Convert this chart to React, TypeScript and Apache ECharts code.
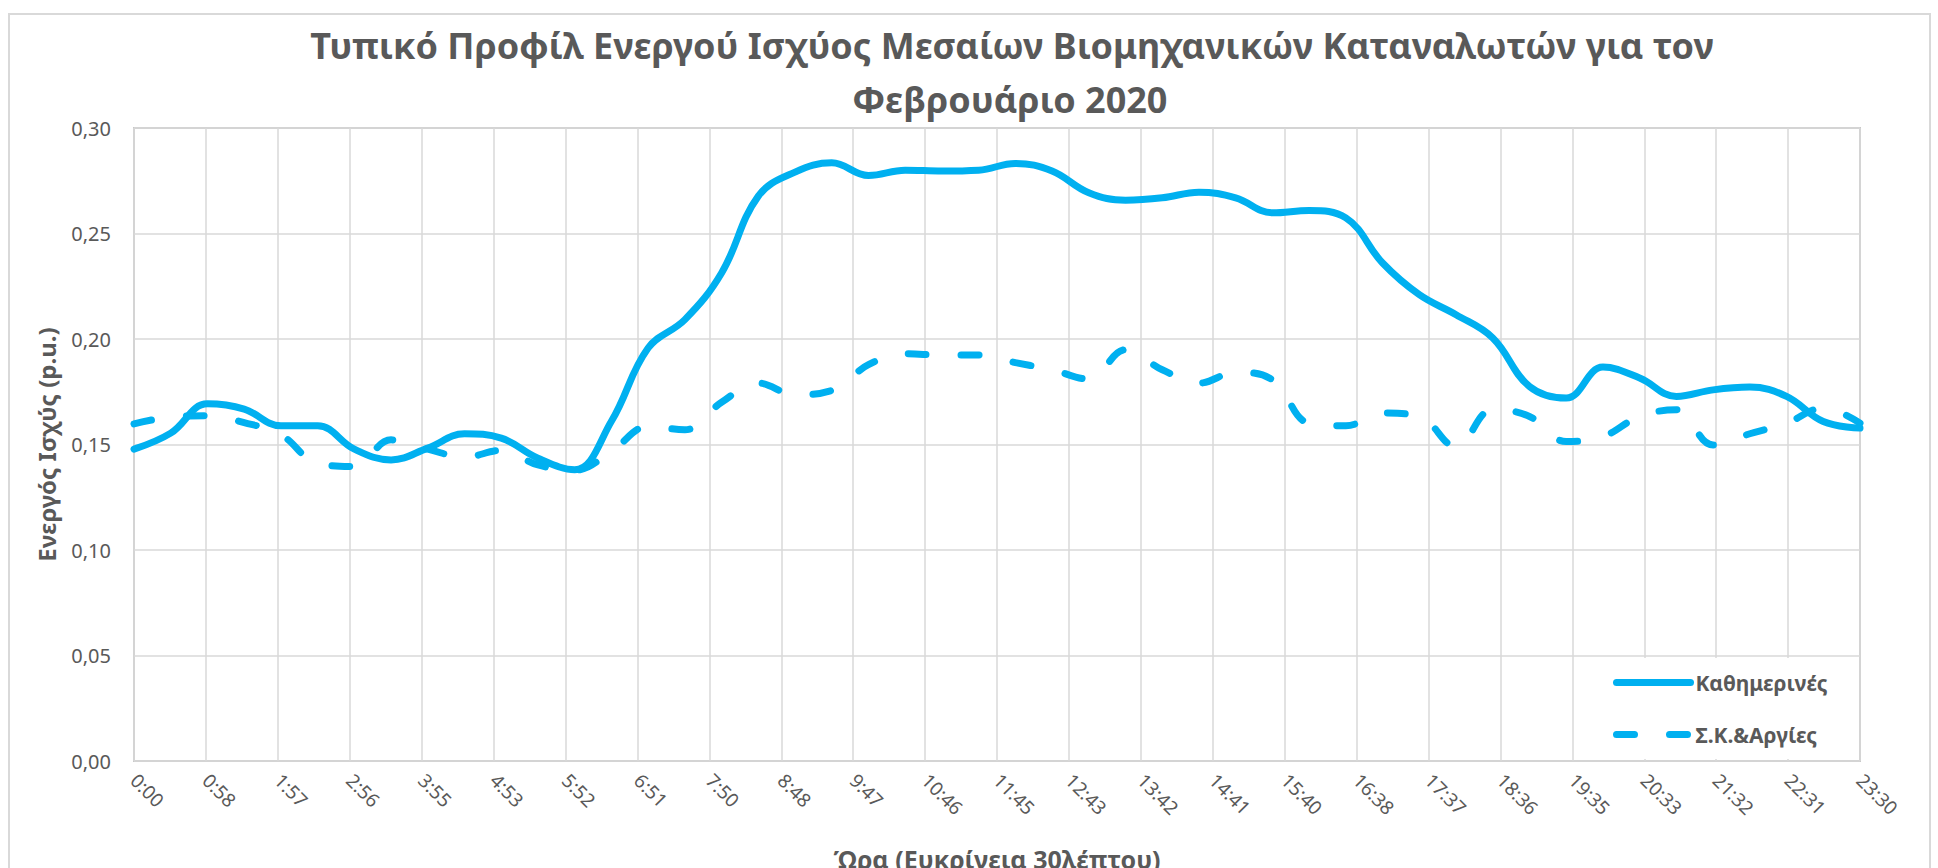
import React, { useEffect, useRef } from "react";
import * as echarts from "echarts";

const titleLines = [
  "Τυπικό Προφίλ Ενεργού Ισχύος Μεσαίων Βιομηχανικών Καταναλωτών για τον",
  "Φεβρουάριο 2020",
];
const yAxisTitle = "Ενεργός Ισχύς (p.u.)";
const xAxisTitle = "Ώρα (Ευκρίνεια 30λέπτου)";
const seriesNames = ["Καθημερινές", "Σ.Κ.&Αργίες"];

const times = [
  "0:00", "0:30", "1:00", "1:30", "2:00", "2:30", "3:00", "3:30",
  "4:00", "4:30", "5:00", "5:30", "6:00", "6:30", "7:00", "7:30",
  "8:00", "8:30", "9:00", "9:30", "10:00", "10:30", "11:00", "11:30",
  "12:00", "12:30", "13:00", "13:30", "14:00", "14:30", "15:00", "15:30",
  "16:00", "16:30", "17:00", "17:30", "18:00", "18:30", "19:00", "19:30",
  "20:00", "20:30", "21:00", "21:30", "22:00", "22:30", "23:00", "23:30",
];

const weekdays = [
  0.1478, 0.1554, 0.1693, 0.1668, 0.1589, 0.1589, 0.1478, 0.1427,
  0.1483, 0.1551, 0.153, 0.1435, 0.138, 0.161, 0.1957, 0.2092,
  0.2313, 0.2677, 0.2791, 0.2835, 0.2775, 0.28, 0.2796, 0.28,
  0.2832, 0.2796, 0.2693, 0.2658, 0.2669, 0.2696, 0.2669, 0.2598,
  0.2609, 0.2574, 0.236, 0.221, 0.2115, 0.2005, 0.1775, 0.172,
  0.1867, 0.1815, 0.1728, 0.1759, 0.1772, 0.1728, 0.1609, 0.1578,
];

const holidays = [
  0.1598, 0.163, 0.1636, 0.1604, 0.1546, 0.1411, 0.1396, 0.1522,
  0.1478, 0.144, 0.1472, 0.1403, 0.1378, 0.1467, 0.1585, 0.157,
  0.17, 0.1791, 0.1736, 0.1756, 0.1878, 0.193, 0.1924, 0.1924,
  0.1888, 0.1854, 0.181, 0.1949, 0.1854, 0.1791, 0.1842, 0.1807,
  0.1601, 0.1589, 0.1649, 0.1633, 0.149, 0.1665, 0.1633, 0.1514,
  0.1538, 0.1633, 0.1665, 0.1498, 0.1551, 0.1601, 0.1672, 0.1601,
];

const yTicks = { min: 0, max: 0.3, step: 0.05 };
const xTickStep = 58.75; // minutes between tick labels (24 equal steps over 0:00–23:30)

const toMinutes = (t: string) => {
  const [h, m] = t.split(":").map(Number);
  return h * 60 + m;
};
const fmtTime = (v: number) => {
  const m = Math.floor(v + 1e-6);
  const h = Math.floor(m / 60);
  const mm = m % 60;
  return `${h}:${mm < 10 ? "0" + mm : mm}`;
};

const FONT = '"Noto Sans", "DejaVu Sans", sans-serif';
const GREY = "#595959";
const BLUE = "#00B0F0";

export default function App() {
  const ref = useRef<HTMLDivElement>(null);

  useEffect(() => {
    if (!ref.current) return;
    const chart = echarts.init(ref.current, null, { renderer: "svg" });
    const xMax = toMinutes(times[times.length - 1]);

    chart.setOption({
      animation: false,
      backgroundColor: "#ffffff",
      textStyle: { fontFamily: FONT },
      graphic: [
        {
          type: "rect",
          z: -10,
          shape: { x: 9, y: 14, width: 1921, height: 900 },
          style: { fill: "none", stroke: "#d9d9d9", lineWidth: 2 },
        },
        {
          type: "text",
          x: 1012,
          y: 45,
          style: {
            text: titleLines[0],
            align: "center",
            verticalAlign: "middle",
            fill: GREY,
            fontFamily: FONT,
            fontSize: 36,
            fontWeight: "bold",
          },
        },
        {
          type: "text",
          x: 1010,
          y: 99,
          style: {
            text: titleLines[1],
            align: "center",
            verticalAlign: "middle",
            fill: GREY,
            fontFamily: FONT,
            fontSize: 36,
            fontWeight: "bold",
          },
        },
      ],
      grid: {
        left: 134,
        right: 78,
        top: 128,
        bottom: 107,
        show: true,
        borderColor: "#c8c8c8",
        borderWidth: 2,
        backgroundColor: "transparent",
        outerBoundsMode: "none",
      },
      legend: {
        orient: "vertical",
        left: 1575,
        top: 658,
        padding: [14, 30, 14, 38],
        backgroundColor: "#ffffff",
        itemWidth: 74,
        itemHeight: 20,
        itemGap: 31,
        itemStyle: { opacity: 0 },
        lineStyle: { width: 7 },
        textStyle: {
          color: GREY,
          fontFamily: FONT,
          fontSize: 21,
          fontWeight: "bold",
          lineHeight: 20,
        },
        data: seriesNames,
      },
      xAxis: {
        type: "value",
        min: 0,
        max: xMax,
        interval: xTickStep,
        name: xAxisTitle,
        nameLocation: "middle",
        nameGap: 85,
        nameTextStyle: {
          color: GREY,
          fontFamily: FONT,
          fontSize: 25,
          fontWeight: "bold",
        },
        axisLine: { show: false },
        axisTick: { show: false },
        splitLine: { show: true, lineStyle: { color: "#d9d9d9", width: 1.5 } },
        axisLabel: {
          rotate: -45,
          margin: 16,
          color: GREY,
          fontFamily: FONT,
          fontSize: 19,
          formatter: (v: number) => fmtTime(v),
        },
      },
      yAxis: {
        type: "value",
        min: yTicks.min,
        max: yTicks.max,
        interval: yTicks.step,
        name: yAxisTitle,
        nameLocation: "middle",
        nameRotate: 90,
        nameGap: 76,
        nameTextStyle: {
          color: GREY,
          fontFamily: FONT,
          fontSize: 24,
          fontWeight: "bold",
        },
        axisLine: { show: false },
        axisTick: { show: false },
        splitLine: { show: true, lineStyle: { color: "#d9d9d9", width: 1.5 } },
        axisLabel: {
          margin: 23,
          color: GREY,
          fontFamily: FONT,
          fontSize: 20,
          formatter: (v: number) => v.toFixed(2).replace(".", ","),
        },
      },
      series: [
        {
          name: seriesNames[0],
          type: "line",
          smooth: 0.4,
          symbol: "none",
          data: times.map((t, i) => [toMinutes(t), weekdays[i]]),
          itemStyle: { color: BLUE },
          lineStyle: { color: BLUE, width: 7, cap: "round", join: "round" },
          z: 3,
        },
        {
          name: seriesNames[1],
          type: "line",
          smooth: 0.4,
          symbol: "none",
          data: times.map((t, i) => [toMinutes(t), holidays[i]]),
          itemStyle: { color: BLUE },
          lineStyle: {
            color: BLUE,
            width: 7,
            type: [18, 35],
            cap: "round",
            join: "round",
          },
          z: 2,
        },
      ],
    });

    return () => chart.dispose();
  }, []);

  return (
    <div
      ref={ref}
      style={{ position: "fixed", left: 0, top: 0, width: "1938px", height: "868px", background: "#fff" }}
    />
  );
}
